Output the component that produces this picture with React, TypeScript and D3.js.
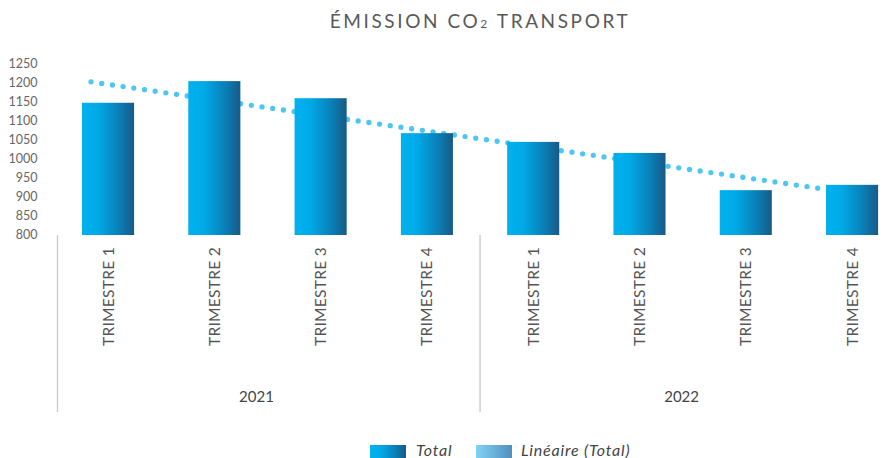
import React from "react";
import * as d3 from "d3";

const categories = ["TRIMESTRE 1", "TRIMESTRE 2", "TRIMESTRE 3", "TRIMESTRE 4", "TRIMESTRE 1", "TRIMESTRE 2", "TRIMESTRE 3", "TRIMESTRE 4"];
const years = ["2021", "2022"];
const totals = [1148, 1205, 1160, 1068, 1045, 1016, 918, 932];
const yTicks = [800, 850, 900, 950, 1000, 1050, 1100, 1150, 1200, 1250];
// trendline: [category position, value]
const trendStart: [number, number] = [-0.16, 1203];
const trendEnd: [number, number] = [7, 910];
const title = "ÉMISSION CO";
const titleSub = "2";
const titleEnd = " TRANSPORT";
const legendLabels = ["Total", "Linéaire (Total)"];

const W = 892;
const H = 458;
const FONT = "Lato, 'Open Sans', sans-serif";

export default function App() {
  const x = d3
    .scaleBand<number>()
    .domain(d3.range(categories.length))
    .range([54.9, 905.2])
    .paddingInner(0.51)
    .paddingOuter(0.255);
  const step = x.step();
  const center = (i: number) => (x(i) as number) + x.bandwidth() / 2;
  const centerF = (p: number) => (x(0) as number) + x.bandwidth() / 2 + p * step;
  const y = d3.scaleLinear().domain([800, 1250]).range([235, 64]);
  const [r0, r1] = x.range();
  const groupEdges = [r0, r0 + 4 * step, r1];

  const trendLine = d3
    .line<[number, number]>()
    .x((d) => centerF(d[0]))
    .y((d) => y(d[1]))([trendStart, trendEnd]);

  return (
    <div style={{ position: "fixed", left: 0, top: 0 }}>
      <svg width={W} height={H} style={{ display: "block" }}>
        <defs>
          <linearGradient id="barGrad" x1="0" x2="1" y1="0" y2="0">
            <stop offset="0" stopColor="#00b1ef" />
            <stop offset="0.3" stopColor="#00aae8" />
            <stop offset="0.7" stopColor="#0a80b8" />
            <stop offset="1" stopColor="#185a86" />
          </linearGradient>
          <linearGradient id="trendGrad" x1="0" x2="1" y1="0" y2="0">
            <stop offset="0" stopColor="#80d3f6" />
            <stop offset="1" stopColor="#4f8fbf" />
          </linearGradient>
        </defs>
        <rect width={W} height={H} fill="#ffffff" />
        {/* title */}
        <text x={480} y={28} textAnchor="middle" fontFamily={FONT} fontSize={19} fontWeight={400} fill="#595959" letterSpacing={2.6}>
          {title}
          <tspan fontSize={12}>{titleSub}</tspan>
          <tspan>{titleEnd}</tspan>
        </text>
        {/* y tick labels */}
        {yTicks.map((t) => (
          <text key={t} x={37.5} y={y(t)} dy="0.35em" textAnchor="end" fontFamily={FONT} fontSize={12.5} fill="#666">
            {t}
          </text>
        ))}
        {/* trend line (behind bars) */}
        <path d={trendLine as string} fill="none" stroke="#4dc6f4" strokeWidth={5.3} strokeLinecap="round" strokeDasharray="0 10.8" />
        {/* bars */}
        {totals.map((v, i) => (
          <rect key={i} x={x(i)} y={y(v)} width={x.bandwidth()} height={y(800) - y(v)} fill="url(#barGrad)" />
        ))}
        {/* category axis lines */}
        {groupEdges.slice(0, 2).map((gx, i) => (
          <line key={i} x1={i === 0 ? gx + 2.6 : gx} x2={i === 0 ? gx + 2.6 : gx} y1={235} y2={412} stroke="#c8c8c8" strokeWidth={1.3} />
        ))}
        {/* category labels */}
        {categories.map((c, i) => (
          <text
            key={i}
            transform={`translate(${center(i) + 5.5},${247}) rotate(-90)`}
            textAnchor="end"
            fontFamily={FONT}
            fontSize={15.5}
            letterSpacing={0.3}
            fill="#555"
          >
            {c}
          </text>
        ))}
        {/* year labels */}
        {years.map((yr, i) => (
          <text key={yr} x={(groupEdges[i] + groupEdges[i + 1]) / 2 - 11} y={402} textAnchor="middle" fontFamily={FONT} fontSize={15} fill="#444">
            {yr}
          </text>
        ))}
        {/* legend */}
        <rect x={370} y={445} width={36} height={13} fill="url(#barGrad)" />
        <text x={416} y={456} fontFamily={FONT} fontSize={16} letterSpacing={0.8} fontStyle="italic" fill="#444">
          {legendLabels[0]}
        </text>
        <rect x={476} y={445} width={36} height={13} fill="url(#trendGrad)" />
        <text x={521} y={456} fontFamily={FONT} fontSize={16} letterSpacing={0.8} fontStyle="italic" fill="#444">
          {legendLabels[1]}
        </text>
      </svg>
    </div>
  );
}
